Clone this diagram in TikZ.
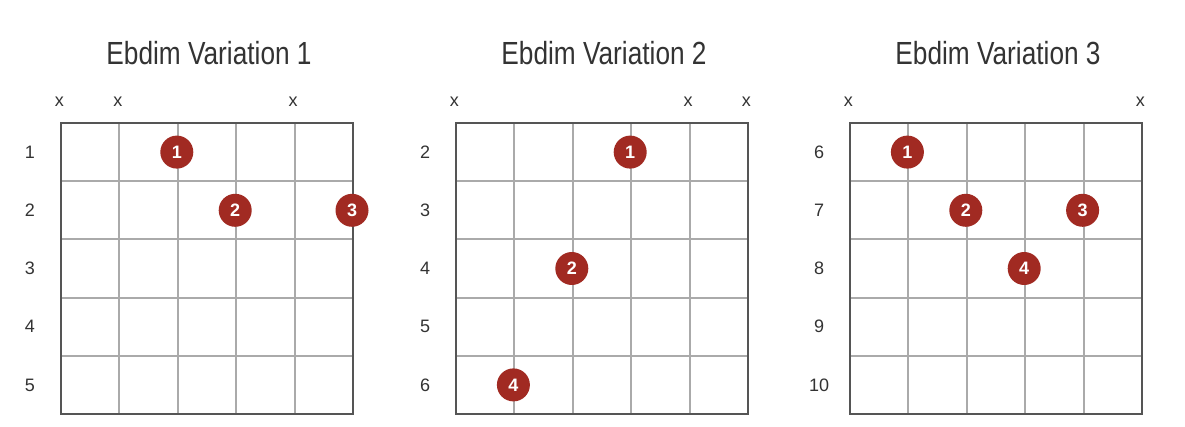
\documentclass[tikz,border=0pt]{standalone}
\usepackage{fontspec}
\setmainfont{Liberation Sans}
\newfontfamily\titlefont[FakeStretch=0.82]{Liberation Sans}
\usepackage{xcolor}
\usepackage{tikz}
\definecolor{Ink}{HTML}{333333}
\definecolor{Fret}{HTML}{AAAAAA}
\definecolor{Frame}{HTML}{555555}
\definecolor{Finger}{HTML}{A12A22}

\begin{document}
\begin{tikzpicture}[x=1pt,y=-1pt,
  title/.style={text=Ink,font=\titlefont\fontsize{32}{36}\selectfont},
  fretnum/.style={text=Ink,font=\fontsize{18}{20}\selectfont},
  mute/.style={text=Ink,font=\fontsize{18}{20}\selectfont},
  finger/.style={circle,fill=Finger,text=white,inner sep=0pt,minimum size=33pt,
    font=\bfseries\fontsize{18}{20}\selectfont}]
  \useasboundingbox[fill=white] (0,0) rectangle (1185,427);
  \foreach \d/\ox/\first/\mutes/\dots in {
    1/61/1/{1,2,5}/{3/1/1,4/2/2,6/2/3},
    2/456/2/{1,5,6}/{4/1/1,3/3/2,2/5/4},
    3/850/6/{1,6}/{2/1/1,3/2/2,5/2/3,4/3/4}}
  {
    \node[title] (title\d) at (\ox+148,53) {Ebdim Variation \d};
    % strings and frets
    \foreach \s in {1,...,4}
    {
      \draw[Fret,line width=2pt] (\ox+\s*58.4,123) -- (\ox+\s*58.4,414);
      \draw[Fret,line width=2pt] (\ox,123+\s*58.2) -- (\ox+292,123+\s*58.2);
    }
    \draw[Frame,line width=2pt] (\ox,123) rectangle (\ox+292,414);
    \foreach \f in {1,...,5}
    {
      \pgfmathtruncatemacro{\n}{\f+\first-1}
      \node[fretnum] (fret\d-\f) at (\ox-31,123+\f*58.2-29.1) {\n};
    }
    \foreach \s in \mutes
      \node[mute] (mute\d-\s) at (\ox+\s*58.4-60,102) {x};
    \foreach \s/\f/\k in \dots
      \node[finger] (dot\d-\k) at (\ox+\s*58.4-59.4,123+\f*58.2-29.1) {\k};
  }
\end{tikzpicture}
\end{document}
